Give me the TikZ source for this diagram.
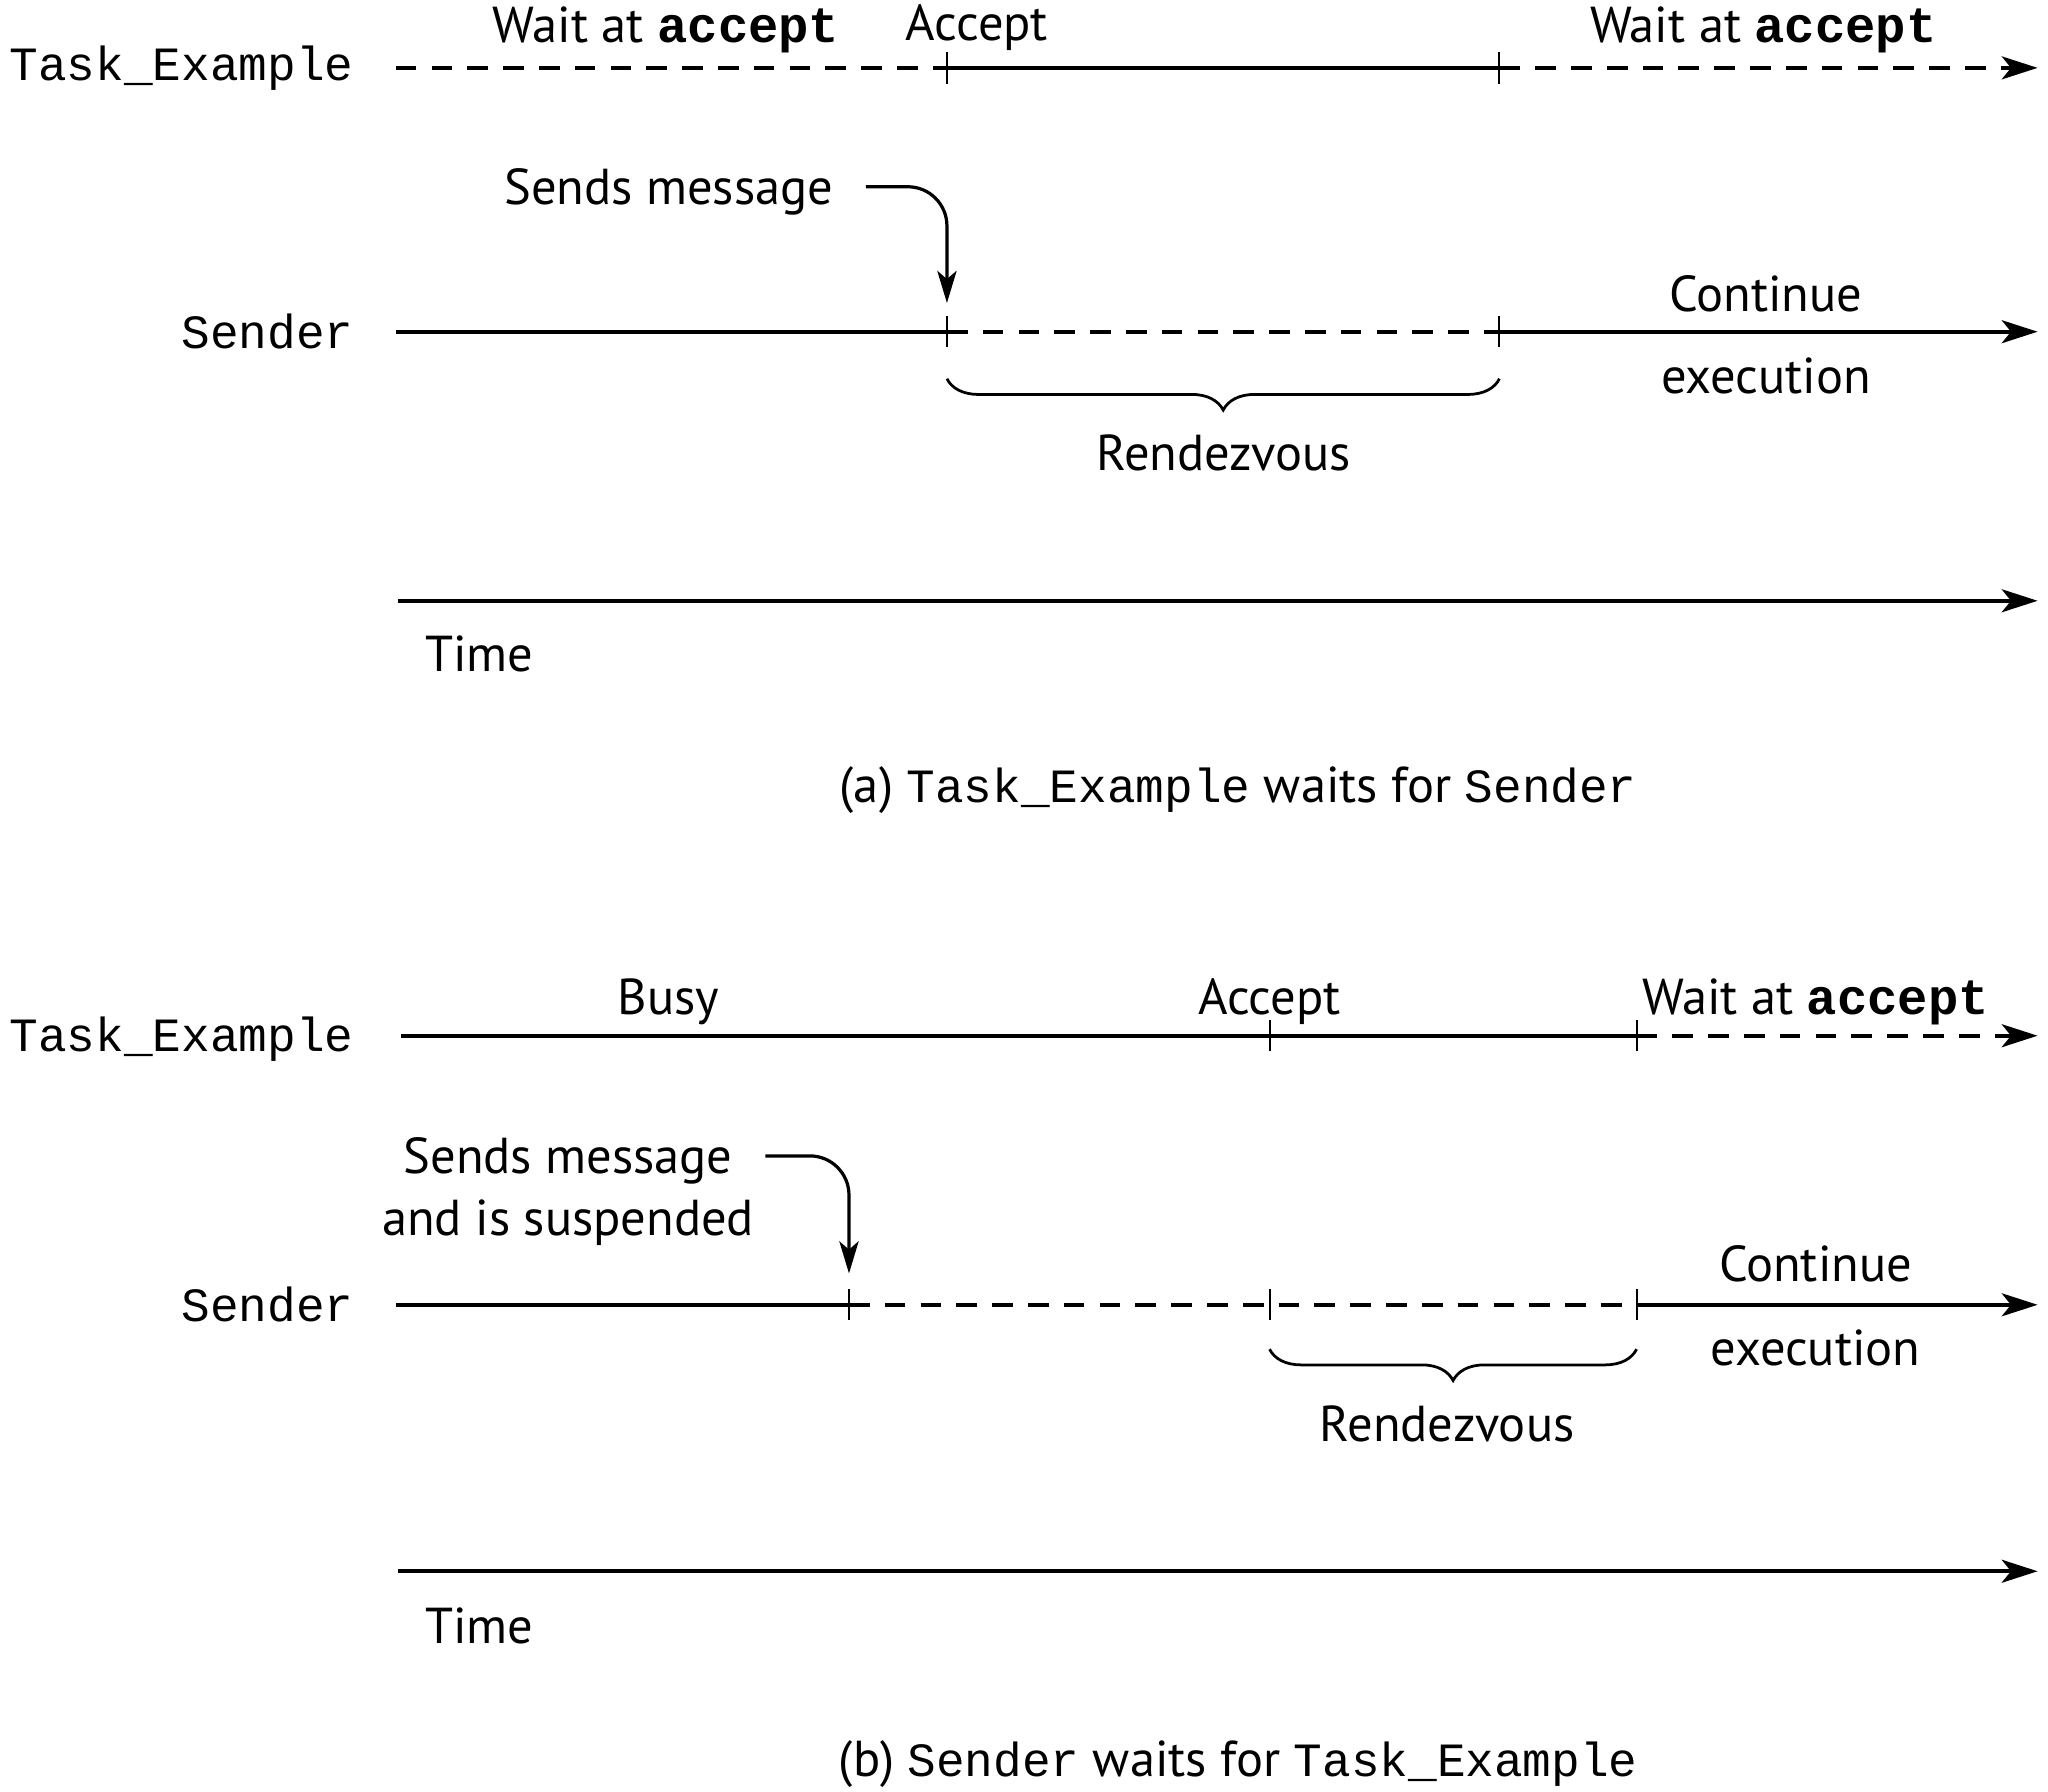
\documentclass[tikz,border=0pt]{standalone}
\usepackage{fontspec}
\setmainfont{PT Sans}
\setmonofont{Liberation Mono}
\usetikzlibrary{arrows.meta,decorations.pathreplacing}
\tikzset{
  runline/.style={line width=0.8pt},
  waitline/.style={line width=0.8pt,dash pattern=on 4.5pt off 3.3pt},
  endarrow/.style={-{Stealth[length=7.8pt,width=5pt,inset=2pt]}},
  tickbar/.style={line width=0.45pt},
  msgarrow/.style={line width=0.7pt,rounded corners=3mm,
    -{Stealth[length=7pt,width=4.2pt,inset=1.8pt]}},
  rdvbrace/.style={line width=0.6pt,decorate,
    decoration={brace,mirror,amplitude=2.4mm}},
  task/.style={font=\fontsize{10.4}{12}\selectfont\ttfamily,anchor=east},
}
\newcommand{\acc}{\textbf{\ttfamily accept}}
\begin{document}
\begin{tikzpicture}[font=\fontsize{11}{13.5}\selectfont]
  \useasboundingbox (0,0) rectangle (15.68,13.72);
  % (a) Task_Example waits for Sender
  \coordinate (ta0) at (3.03,13.20);
  \coordinate (ta1) at (7.25,13.20);
  \coordinate (ta2) at (11.48,13.20);
  \coordinate (ta3) at (15.60,13.20);
  \coordinate (sa0) at (3.03,11.18);
  \coordinate (sa1) at (7.25,11.18);
  \coordinate (sa2) at (11.48,11.18);
  \coordinate (sa3) at (15.60,11.18);
  \coordinate (timea0) at (3.05,9.12);
  \coordinate (timea1) at (15.60,9.12);
  \node[task] (taskA) at (2.83,13.20) {Task\_Example};
  \node[task] (senderA) at (2.83,11.18) {Sender};
  \draw[waitline] (ta0) -- (ta1);
  \draw[runline] (ta1) -- (ta2);
  \draw[waitline,endarrow] (ta2) -- (ta3);
  \draw[runline] (sa0) -- (sa1);
  \draw[waitline] (sa1) -- (sa2);
  \draw[runline,endarrow] (sa2) -- (sa3);
  \foreach \p in {ta1,ta2,sa1,sa2}
    \draw[tickbar] ([yshift=1.2mm]\p) -- ([yshift=-1.2mm]\p);
  \node (waitA1) at (5.10,13.49) {Wait at \acc};
  \node (acceptA) at (7.48,13.51) {Accept};
  \node (waitA2) at (13.50,13.49) {Wait at \acc};
  \node (sendsA) at (5.12,12.25) {Sends message};
  \coordinate (fromA) at (6.63,12.29);
  \coordinate (hitA) at (7.25,11.40);
  \draw[msgarrow] (fromA) -| (hitA);
  \node (contA) at (13.52,11.47) {Continue};
  \node (execA) at (13.52,10.84) {execution};
  \draw[rdvbrace] ([yshift=-3.6mm]sa1) -- ([yshift=-3.6mm]sa2);
  \node (rdvA) at (9.37,10.25) {Rendezvous};
  \draw[runline,endarrow] (timea0) -- (timea1);
  \node (timeA) at (3.67,8.71) {Time};
  \node (capA) at (9.48,7.67) {(a) {\fontsize{10.4}{12}\selectfont\ttfamily Task\_Example}
    waits for {\fontsize{10.4}{12}\selectfont\ttfamily Sender}};
  % (b) Sender waits for Task_Example
  \coordinate (tb0) at (3.07,5.79);
  \coordinate (tb1) at (9.72,5.79);
  \coordinate (tb2) at (12.53,5.79);
  \coordinate (tb3) at (15.60,5.79);
  \coordinate (sb0) at (3.03,3.73);
  \coordinate (sb1) at (6.50,3.73);
  \coordinate (sb2) at (9.72,3.73);
  \coordinate (sb3) at (12.53,3.73);
  \coordinate (sb4) at (15.60,3.73);
  \coordinate (timeb0) at (3.05,1.69);
  \coordinate (timeb1) at (15.60,1.69);
  \node[task] (taskB) at (2.83,5.76) {Task\_Example};
  \node[task] (senderB) at (2.83,3.73) {Sender};
  \draw[runline] (tb0) -- (tb2);
  \draw[waitline,endarrow] (tb2) -- (tb3);
  \draw[runline] (sb0) -- (sb1);
  \draw[waitline] (sb1) -- (sb3);
  \draw[runline,endarrow] (sb3) -- (sb4);
  \foreach \p in {tb1,tb2,sb1,sb2,sb3}
    \draw[tickbar] ([yshift=1.2mm]\p) -- ([yshift=-1.2mm]\p);
  \node (busyB) at (5.12,6.05) {Busy};
  \node (acceptB) at (9.72,6.05) {Accept};
  \node (waitB) at (13.90,6.05) {Wait at \acc};
  \node[align=center] (sendsB) at (4.35,4.60) {Sends message\\and is suspended};
  \coordinate (fromB) at (5.86,4.87);
  \coordinate (hitB) at (6.50,3.97);
  \draw[msgarrow] (fromB) -| (hitB);
  \node (contB) at (13.90,4.04) {Continue};
  \node (execB) at (13.90,3.40) {execution};
  \draw[rdvbrace] ([yshift=-3.4mm]sb2) -- ([yshift=-3.4mm]sb3);
  \node (rdvB) at (11.08,2.82) {Rendezvous};
  \draw[runline,endarrow] (timeb0) -- (timeb1);
  \node (timeB) at (3.67,1.27) {Time};
  \node (capB) at (9.48,0.21) {(b) {\fontsize{10.4}{12}\selectfont\ttfamily Sender}
    waits for {\fontsize{10.4}{12}\selectfont\ttfamily Task\_Example}};
\end{tikzpicture}
\end{document}
